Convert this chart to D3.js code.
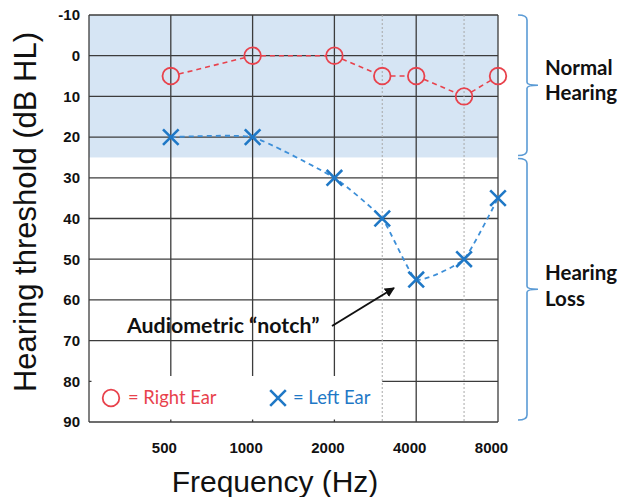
<!DOCTYPE html>
<html><head><meta charset="utf-8">
<script src="https://cdn.jsdelivr.net/npm/d3@7"></script>
<style>body{margin:0;background:#fff}svg{display:block}</style>
</head><body>
<script>
const frequencies = [500, 1000, 2000, 3000, 4000, 6000, 8000];
const rightEar = [5, 0, 0, 5, 5, 10, 5];
const leftEar = [20, 20, 30, 40, 55, 50, 35];
const solidFreqs = [250, 500, 1000, 2000, 4000, 8000];
const dottedFreqs = [3000, 6000];
const xTickValues = [500, 1000, 2000, 4000, 8000];
const xTickLabels = ["500", "1000", "2000", "4000", "8000"];
const yTickValues = [-10, 0, 10, 20, 30, 40, 50, 60, 70, 80, 90];
const normalLimit = 25;

const W = 622, H = 497;
const svg = d3.select("body").append("svg").attr("width", W).attr("height", H);
const x = d3.scaleLog().base(2).domain([250, 8000]).range([89, 498]);
const y = d3.scaleLinear().domain([-10, 90]).range([15, 422]);
const gridColor = "#3c3c3c";
const red = "#e8424c", blue = "#1f78c6", blueLine = "#3d8fd8", bracket = "#5b9bd5";

// normal hearing shading
svg.append("rect").attr("x", x(250)).attr("y", y(-10))
  .attr("width", x(8000) - x(250)).attr("height", y(normalLimit) - y(-10))
  .attr("fill", "#d6e5f4");

// horizontal grid
svg.append("g").selectAll("line").data(yTickValues).join("line")
  .attr("x1", x(250)).attr("x2", x(8000)).attr("y1", d => y(d)).attr("y2", d => y(d))
  .attr("stroke", gridColor).attr("stroke-width", 1.3);
// vertical grid
svg.append("g").selectAll("line").data(solidFreqs).join("line")
  .attr("x1", d => x(d)).attr("x2", d => x(d)).attr("y1", y(-10)).attr("y2", y(90))
  .attr("stroke", gridColor).attr("stroke-width", 1.3);

// white legend box covering lower-left grid
svg.append("rect").attr("x", x(250) + 2.5).attr("y", 376)
  .attr("width", x(3000) - x(250) - 2.5).attr("height", y(90) - 376 - 2.5).attr("fill", "#fff");

svg.append("g").selectAll("line").data(dottedFreqs).join("line")
  .attr("x1", d => x(d)).attr("x2", d => x(d)).attr("y1", y(-10)).attr("y2", y(90))
  .attr("stroke", "#a8a8a8").attr("stroke-width", 1).attr("stroke-dasharray", "2,2");

// axes labels
const yAxis = svg.append("g").attr("transform", `translate(${x(250)},0)`)
  .call(d3.axisLeft(y).tickValues(yTickValues).tickSize(0).tickPadding(9).tickFormat(d => String(d)));
yAxis.select(".domain").remove();
yAxis.selectAll("text").attr("font-family", "Liberation Sans, Arial, sans-serif")
  .attr("font-weight", "bold").attr("font-size", 15).attr("fill", "#111");

const xAxis = svg.append("g").attr("transform", `translate(0,${y(90)})`)
  .call(d3.axisBottom(x).tickValues(xTickValues).tickSize(0).tickPadding(20)
    .tickFormat((d, i) => xTickLabels[i]));
xAxis.select(".domain").remove();
xAxis.selectAll("text").attr("font-family", "Liberation Sans, Arial, sans-serif")
  .attr("font-weight", "bold").attr("font-size", 15).attr("fill", "#111").attr("dx", -7);

// titles
svg.append("text").attr("transform", `translate(36,212) rotate(-90)`)
  .attr("text-anchor", "middle").attr("font-family", "Liberation Sans, Arial, sans-serif")
  .attr("font-size", 31).attr("fill", "#111").text("Hearing threshold (dB HL)");
svg.append("text").attr("x", 275).attr("y", 492).attr("text-anchor", "middle")
  .attr("font-family", "Liberation Sans, Arial, sans-serif")
  .attr("font-size", 30).attr("fill", "#111").text("Frequency (Hz)");

// data
const rPts = frequencies.map((f, i) => [x(f), y(rightEar[i])]);
const lPts = frequencies.map((f, i) => [x(f), y(leftEar[i])]);
const R = 8.3;
const segs = [];
for (let i = 0; i < rPts.length - 1; i++) {
  const [x1, y1] = rPts[i], [x2, y2] = rPts[i + 1];
  const dx = x2 - x1, dy = y2 - y1, L = Math.hypot(dx, dy);
  if (L > 2 * R) segs.push([x1 + dx / L * R, y1 + dy / L * R, x2 - dx / L * R, y2 - dy / L * R]);
}
svg.append("g").selectAll("line").data(segs).join("line")
  .attr("x1", d => d[0]).attr("y1", d => d[1]).attr("x2", d => d[2]).attr("y2", d => d[3])
  .attr("stroke", red).attr("stroke-width", 1.6).attr("stroke-dasharray", "5,4");
svg.append("g").selectAll("circle").data(rPts).join("circle")
  .attr("cx", d => d[0]).attr("cy", d => d[1]).attr("r", R)
  .attr("fill", "none").attr("stroke", red).attr("stroke-width", 1.8);

svg.append("path").attr("d", d3.line().curve(d3.curveCardinal.tension(0.55))(lPts))
  .attr("fill", "none").attr("stroke", blueLine).attr("stroke-width", 1.8).attr("stroke-dasharray", "5,4");
const S = 7.8;
const xMark = (g, cx, cy) => g.append("path")
  .attr("d", `M${cx - S},${cy - S}L${cx + S},${cy + S}M${cx - S},${cy + S}L${cx + S},${cy - S}`)
  .attr("stroke", blue).attr("stroke-width", 2.6).attr("fill", "none");
const xg = svg.append("g");
lPts.forEach(p => xMark(xg, p[0], p[1]));

// legend
svg.append("circle").attr("cx", 111).attr("cy", 398).attr("r", 8.3)
  .attr("fill", "none").attr("stroke", red).attr("stroke-width", 1.8);
svg.append("text").attr("x", 128).attr("y", 404).attr("font-family", "Lato, sans-serif")
  .attr("font-size", 18.4).attr("fill", red).text("= Right Ear");
xMark(svg.append("g"), 278, 398);
svg.append("text").attr("x", 293).attr("y", 404).attr("font-family", "Lato, sans-serif")
  .attr("font-size", 18.4).attr("fill", blue).text("= Left Ear");

// annotation
svg.append("defs").append("marker").attr("id", "ah").attr("viewBox", "0 0 10 10")
  .attr("refX", 9).attr("refY", 5).attr("markerWidth", 5).attr("markerHeight", 5)
  .attr("orient", "auto").append("path").attr("d", "M0,0L10,5L0,10z").attr("fill", "#111");
svg.append("text").attr("x", 127).attr("y", 333).attr("font-family", "Lato, sans-serif")
  .attr("font-weight", "bold").attr("font-size", 21.3).attr("fill", "#111")
  .text("Audiometric \u201cnotch\u201d");
svg.append("line").attr("x1", 332).attr("y1", 326).attr("x2", 394).attr("y2", 288)
  .attr("stroke", "#111").attr("stroke-width", 2).attr("marker-end", "url(#ah)");

// brackets
const brace = (top, bot) => {
  const mid = (top + bot) / 2, xv = 527;
  return `M518,${top}Q527,${top} ${xv},${top + 5}L${xv},${mid - 3}Q${xv},${mid} 538,${mid}` +
    `M${xv},${mid + 3}Q${xv},${mid} 538,${mid}M${xv},${mid + 3}L${xv},${bot - 5}Q${xv},${bot} 518,${bot}`;
};
svg.append("path").attr("d", brace(y(-10), y(normalLimit) - 2)).attr("fill", "none")
  .attr("stroke", bracket).attr("stroke-width", 1.6);
svg.append("path").attr("d", brace(y(normalLimit) + 1, y(90) - 2)).attr("fill", "none")
  .attr("stroke", bracket).attr("stroke-width", 1.6);

const lab = (t, yy) => svg.append("text").attr("x", 545).attr("y", yy)
  .attr("font-family", "Lato, sans-serif").attr("font-weight", "bold")
  .attr("font-size", 20.5).attr("fill", "#111").text(t);
lab("Normal", 75); lab("Hearing", 100);
lab("Hearing", 280); lab("Loss", 306);
</script>
</body></html>
